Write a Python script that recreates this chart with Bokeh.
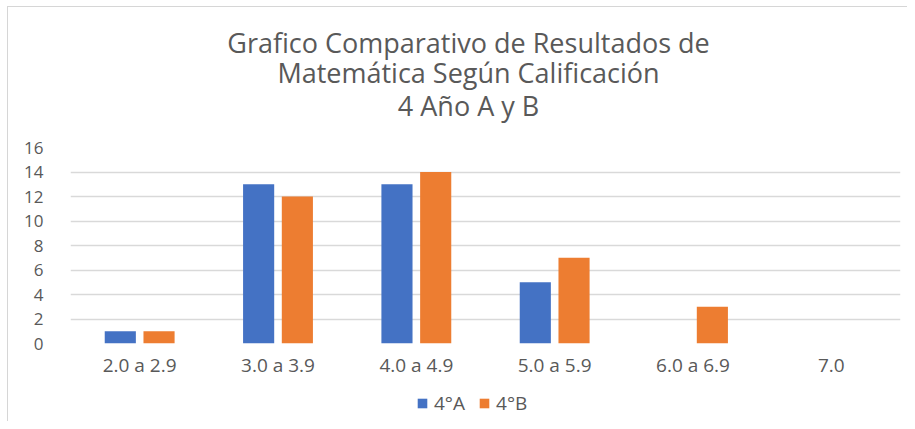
from bokeh.plotting import figure
from bokeh.layouts import column
from bokeh.models import (FactorRange, Range1d, Legend, LegendItem, ColumnDataSource,
                          FixedTicker, Label)
from bokeh.transform import dodge
from bokeh.embed import file_html
from bokeh.resources import INLINE

categories = ["2.0 a 2.9", "3.0 a 3.9", "4.0 a 4.9", "5.0 a 5.9", "6.0 a 6.9", "7.0"]
serie_a = [1, 13, 13, 5, 0, 0]
serie_b = [1, 12, 14, 7, 3, 0]
series_names = ["4°A", "4°B"]
y_ticks = [0, 2, 4, 6, 8, 10, 12, 14, 16]
title_lines = ["Grafico Comparativo de Resultados de",
               "Matemática Según Calificación",
               "4 Año A y B"]

FONT = "Open Sans"
GRAY = "#595959"
BLUE = "#4472C4"
ORANGE = "#ED7D31"
W = 899
BL, BR = 62, 7          # left / right borders shared by all stacked figures
FW = W - BL - BR        # frame width
TH, MH, LH = 120, 261, 33


def blank(h):
    f = figure(width=W, height=h, x_range=Range1d(0, FW), y_range=Range1d(0, h),
               x_axis_type=None, y_axis_type=None, output_backend="svg", toolbar_location=None,
               title=None, min_border_left=BL, min_border_right=BR,
               min_border_top=0, min_border_bottom=0)
    f.outline_line_color = None
    f.grid.grid_line_color = None
    return f


# ---- title block
pt = blank(TH)
for txt, yy in zip(title_lines, [85, 55, 22]):
    pt.add_layout(Label(x=398, y=yy, text=txt, text_align="center", text_baseline="alphabetic",
                        text_font=FONT, text_font_size="27px", text_color=GRAY))

# ---- main chart
src = ColumnDataSource(dict(cat=categories, a=serie_a, b=serie_b))
p = figure(width=W, height=MH, x_range=FactorRange(*categories), y_range=Range1d(0, 16),
           output_backend="svg", toolbar_location=None, title=None,
           min_border_left=BL, min_border_right=BR, min_border_top=20, min_border_bottom=45)
p.outline_line_color = None

ra = p.vbar(x=dodge("cat", -0.14, range=p.x_range), top="a", width=0.225, source=src,
            fill_color=BLUE, line_color=None)
rb = p.vbar(x=dodge("cat", 0.14, range=p.x_range), top="b", width=0.225, source=src,
            fill_color=ORANGE, line_color=None)

p.xgrid.grid_line_color = None
p.ygrid.grid_line_color = "#d9d9d9"
p.ygrid.grid_line_width = 1.5
p.yaxis.ticker = FixedTicker(ticks=y_ticks)
for ax in (p.xaxis, p.yaxis):
    ax.axis_line_color = None
    ax.major_tick_line_color = None
    ax.minor_tick_line_color = None
    ax.major_label_text_font = FONT
    ax.major_label_text_color = GRAY
p.xaxis.major_label_text_font_size = "19px"
p.yaxis.major_label_text_font_size = "17px"
p.xaxis.major_label_standoff = 2
p.yaxis.major_label_standoff = 21

# ---- legend block (legend swatches use the same series data, drawn hidden)
pl = blank(LH)
la = pl.vbar(x=0, top="a", width=1, source=src, fill_color=BLUE, line_color=None, visible=False)
lb = pl.vbar(x=0, top="b", width=1, source=src, fill_color=ORANGE, line_color=None, visible=False)
legend = Legend(items=[LegendItem(label=series_names[0], renderers=[la]),
                       LegendItem(label=series_names[1], renderers=[lb])],
                orientation="horizontal", location=(346, 5),
                glyph_width=12, glyph_height=12, label_standoff=6, spacing=13,
                padding=0, margin=0, border_line_color=None, background_fill_alpha=0,
                label_text_font=FONT, label_text_font_size="19px", label_text_color=GRAY)
pl.add_layout(legend, "center")

layout = column(pt, p, pl, spacing=0)
layout.styles = {"margin-left": "7px", "margin-top": "6px",
                 "border-left": "1px solid #d6d6d6", "border-top": "1px solid #d6d6d6"}

open("out.html", "w").write(file_html(layout, INLINE))
